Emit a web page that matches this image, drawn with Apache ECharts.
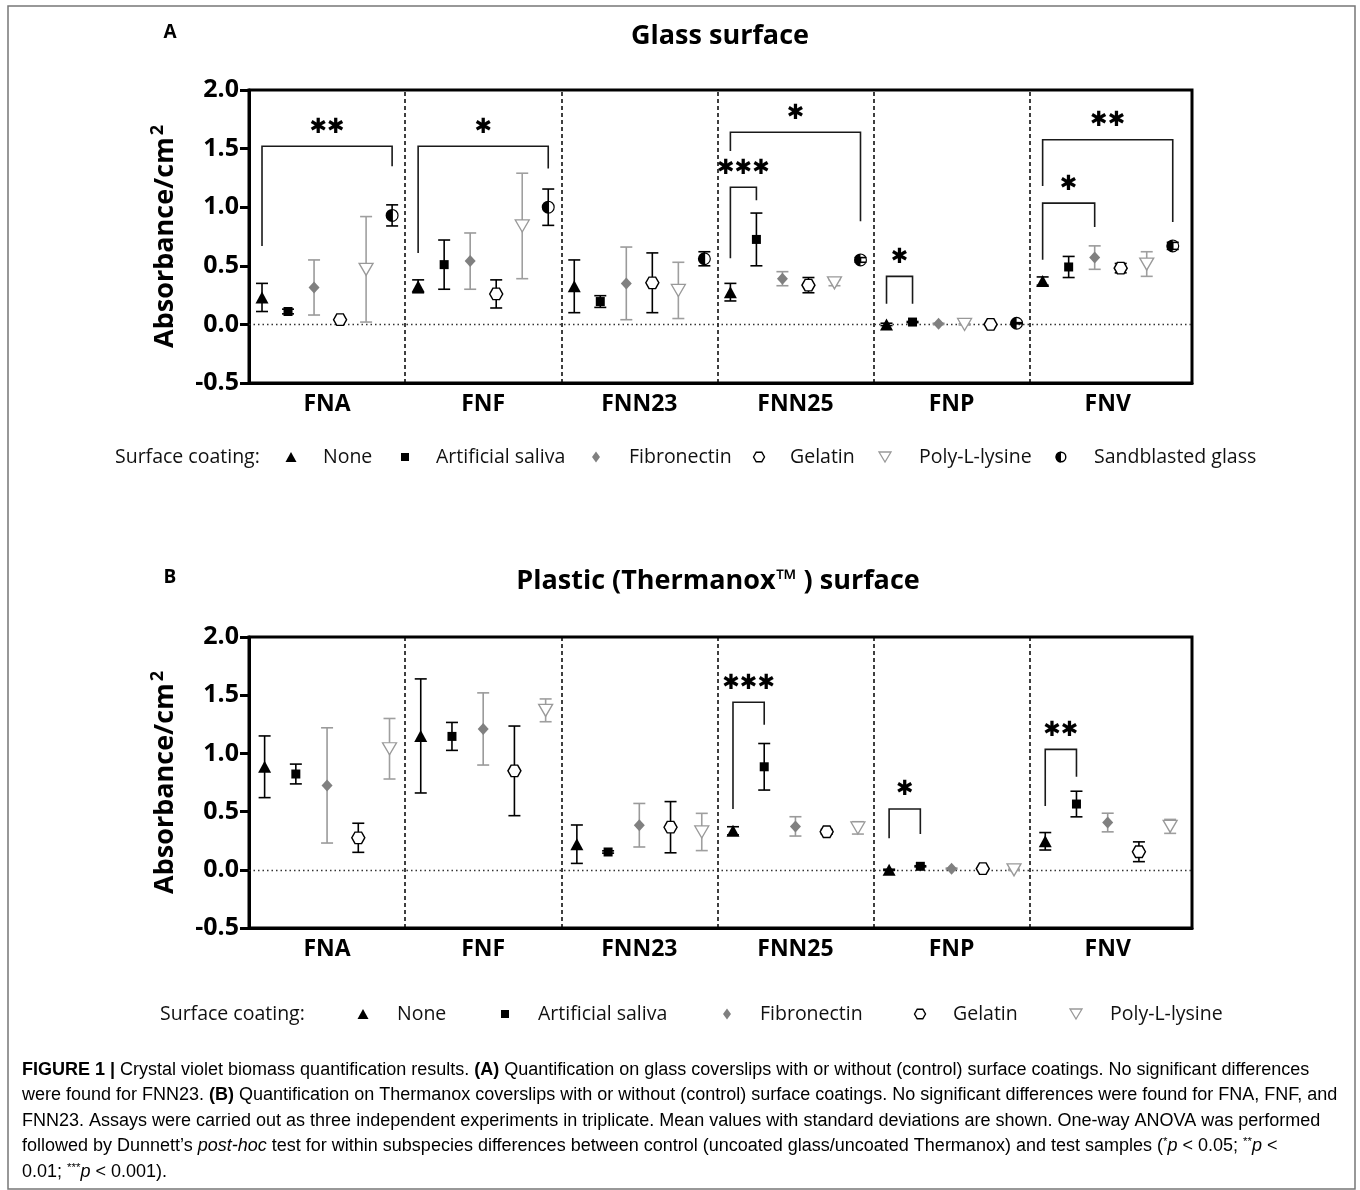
<!DOCTYPE html>
<html><head><meta charset="utf-8">
<script src="https://cdn.jsdelivr.net/npm/echarts/dist/echarts.min.js"></script>
<style>html,body{margin:0;padding:0;background:#fff}#c{width:1360px;height:1190px}</style>
</head><body><div id="c"></div>
<script>
// ---------- DATA ----------
const groups = ['FNA', 'FNF', 'FNN23', 'FNN25', 'FNP', 'FNV'];
const coatingsGlass = ['None', 'Artificial saliva', 'Fibronectin', 'Gelatin', 'Poly-L-lysine', 'Sandblasted glass'];
const coatingsPlastic = ['None', 'Artificial saliva', 'Fibronectin', 'Gelatin', 'Poly-L-lysine'];
const yTickValues = [-0.5, 0, 0.5, 1.0, 1.5, 2.0];

// Panel A: glass surface (mean, SD per group FNA..FNV)
const glassNoneMean = [0.23, 0.325, 0.325, 0.275, 0.00, 0.37];
const glassNoneSD = [0.12, 0.055, 0.225, 0.075, 0.01, 0.035];
const glassSalivaMean = [0.11, 0.51, 0.195, 0.725, 0.02, 0.49];
const glassSalivaSD = [0.02, 0.21, 0.05, 0.225, 0.005, 0.09];
const glassFibroMean = [0.315, 0.54, 0.35, 0.39, 0.005, 0.57];
const glassFibroSD = [0.235, 0.24, 0.31, 0.06, 0.005, 0.10];
const glassGelatinMean = [0.04, 0.26, 0.355, 0.335, 0.00, 0.48];
const glassGelatinSD = [0.01, 0.12, 0.255, 0.065, 0.005, 0.04];
const glassPLLMean = [0.47, 0.84, 0.29, 0.355, 0.00, 0.515];
const glassPLLSD = [0.45, 0.45, 0.24, 0.025, 0.005, 0.105];
const glassSandMean = [0.93, 1.00, 0.56, 0.55, 0.01, 0.67];
const glassSandSD = [0.09, 0.155, 0.06, 0.02, 0.005, 0.03];

// Panel B: plastic (Thermanox) surface
const plasticNoneMean = [0.885, 1.15, 0.22, 0.335, 0.00, 0.245];
const plasticNoneSD = [0.265, 0.49, 0.165, 0.035, 0.005, 0.075];
const plasticSalivaMean = [0.823, 1.146, 0.153, 0.885, 0.03, 0.565];
const plasticSalivaSD = [0.085, 0.12, 0.01, 0.20, 0.005, 0.11];
const plasticFibroMean = [0.725, 1.21, 0.383, 0.373, 0.01, 0.406];
const plasticFibroSD = [0.495, 0.31, 0.187, 0.083, 0.005, 0.08];
const plasticGelatinMean = [0.275, 0.85, 0.366, 0.327, 0.01, 0.155];
const plasticGelatinSD = [0.125, 0.385, 0.22, 0.02, 0.005, 0.085];
const plasticPLLMean = [1.04, 1.37, 0.325, 0.36, 0.00, 0.373];
const plasticPLLSD = [0.26, 0.098, 0.16, 0.053, 0.005, 0.06];

// slot order of the coatings inside each group (FNP in panel A shows PLL before gelatin)
const glassSlotOrder = [[0,1,2,3,4,5],[0,1,2,3,4,5],[0,1,2,3,4,5],[0,1,2,3,4,5],[0,1,2,4,3,5],[0,1,2,3,4,5]];
const plasticSlotOrder = [[0,1,2,3,4],[0,1,2,3,4],[0,1,2,3,4],[0,1,2,3,4],[0,1,2,3,4],[0,1,2,3,4]];

// significance brackets: [group, fromCoating, toCoating, barTop, leftLegEnd, rightLegEnd, stars]
const glassBrackets = [
  [0, 0, 5, 1.52, 0.67, 1.35, '**'],
  [1, 0, 5, 1.52, 0.61, 1.33, '*'],
  [3, 0, 5, 1.64, 1.48, 0.88, '*'],
  [3, 0, 1, 1.17, 0.565, 1.06, '***'],
  [4, 0, 1, 0.41, 0.177, 0.177, '*'],
  [5, 0, 5, 1.576, 1.18, 0.873, '**'],
  [5, 0, 2, 1.035, 0.552, 0.83, '*']
];
const plasticBrackets = [
  [3, 0, 1, 1.439, 0.522, 1.246, '***'],
  [4, 0, 1, 0.522, 0.27, 0.308, '*'],
  [5, 0, 1, 1.035, 0.548, 0.80, '**']
];

// ---------- STYLES / LAYOUT ----------
const P_TRI = 'M10,0L20,17.32L0,17.32Z';
const P_SQ = 'M0,0L10,0L10,10L0,10Z';
const P_DIA = 'M5,0L10,6L5,12L0,6Z';
const P_HEX = 'M0,8.66L5,0L15,0L20,8.66L15,17.32L5,17.32Z';
const P_TRID = 'M0,0L20,0L10,17.32Z';
const P_HALF = 'M10,0A10,10,0,0,0,10,20ZM10,0A10,10,0,0,1,10,20L10,18.2A8.2,8.2,0,0,0,10,1.8Z';
const styleOf = {
  'None': {path: P_TRI, kind: 'tri', size: [13, 12], lsize: [11, 10], fill: '#000', border: '#000', bw: 0, err: '#000'},
  'Artificial saliva': {path: P_SQ, kind: 'sq', size: [9, 9], lsize: [8, 8], fill: '#000', border: '#000', bw: 0, err: '#000'},
  'Fibronectin': {path: P_DIA, kind: 'dia', size: [11, 12], lsize: [8, 11], fill: '#808080', border: '#808080', bw: 0, err: '#9a9a9a'},
  'Gelatin': {path: P_HEX, kind: 'hex', size: [13, 11.5], lsize: [11, 9.5], fill: '#fff', border: '#000', bw: 1.4, err: '#000'},
  'Poly-L-lysine': {path: P_TRID, kind: 'trid', size: [14, 12], lsize: [12, 10], fill: '#fff', border: '#999', bw: 1.3, err: '#9f9f9f'},
  'Sandblasted glass': {path: P_HALF, kind: 'half', size: [13, 13], lsize: [11, 11], fill: '#000', border: '#000', bw: 0, err: '#000'}
};
// legend layout: marker centre x, text left x
const legendGlassMarkerX = [291, 405, 596, 759, 885, 1061];
const legendGlassTextX = [323, 436, 629, 790, 919, 1094];
const legendPlasticMarkerX = [363, 505, 727, 920, 1076];
const legendPlasticTextX = [397, 538, 760, 953, 1110];
const FONT = 'Open Sans';
const LEGEND_FONT = '19.5px "Open Sans"';

function xPos(g, slot, n) { return g + (slot + 0.5) / n; }
function starGlyphs(s) { return s.replace(/\*/g, '\u2731'); }

const grids = [
  {left: 249, right: 168, top: 90, height: 293, show: true, borderColor: '#000', borderWidth: 3, backgroundColor: 'transparent'},
  {left: 249, right: 168, top: 637, height: 291, show: true, borderColor: '#000', borderWidth: 3, backgroundColor: 'transparent'}
];

function xAxisFor(i) {
  return {
    type: 'value', gridIndex: i, min: 0, max: 6.04, interval: 0.5,
    axisLine: {show: true, onZero: false, lineStyle: {color: '#000', width: 3}},
    axisTick: {show: false}, splitLine: {show: false},
    axisLabel: {
      margin: 10, fontSize: 23, fontWeight: 'bold', color: '#000', fontFamily: FONT,
      showMinLabel: true, showMaxLabel: false,
      formatter: function (v) {
        const f = Math.floor(v);
        return (Math.abs(v - f - 0.5) < 1e-6 && f < groups.length) ? groups[f] : '';
      }
    }
  };
}
function yAxisFor(i) {
  return {
    type: 'value', gridIndex: i, min: yTickValues[0], max: yTickValues[yTickValues.length - 1], interval: 0.5,
    axisLine: {show: true, onZero: false, lineStyle: {color: '#000', width: 3}},
    axisTick: {show: true, inside: false, length: 9, lineStyle: {color: '#000', width: 3}},
    splitLine: {show: false},
    axisLabel: {margin: 10, fontSize: 25, fontWeight: 'bold', color: '#000', fontFamily: FONT,
      formatter: v => v.toFixed(1)},
    name: '{a|Absorbance/cm}{s|2}', nameLocation: 'middle', nameGap: 67, nameRotate: 90,
    nameTextStyle: {
      rich: {
        a: {fontSize: 27, fontWeight: 'bold', color: '#000', fontFamily: FONT},
        s: {fontSize: 18, fontWeight: 'bold', color: '#000', fontFamily: FONT, padding: [0, 0, 15, 2]}
      }
    }
  };
}

const series = [];
function buildPanel(pi, coatings, means, sds, slotOrder, brackets) {
  const n = coatings.length;
  coatings.forEach((name, ci) => {
    const st = styleOf[name];
    const pts = [], errs = [];
    groups.forEach((g, gi) => {
      const x = xPos(gi, slotOrder[gi][ci], n);
      pts.push([x, means[ci][gi]]);
      errs.push([x, means[ci][gi], sds[ci][gi]]);
    });
    series.push({
      name: name + ' SD ' + pi, type: 'custom', xAxisIndex: pi, yAxisIndex: pi, z: 3,
      data: errs, encode: {x: 0, y: 1}, silent: true,
      renderItem: function (params, api) {
        const x = api.value(0), m = api.value(1), s = api.value(2);
        const t = api.coord([x, m + s]), b = api.coord([x, m - s]);
        const hw = 6, sty = {stroke: st.err, lineWidth: 1.6, fill: null};
        return {type: 'group', children: [
          {type: 'line', shape: {x1: t[0], y1: t[1], x2: b[0], y2: b[1]}, style: sty},
          {type: 'line', shape: {x1: t[0] - hw, y1: t[1], x2: t[0] + hw, y2: t[1]}, style: sty},
          {type: 'line', shape: {x1: b[0] - hw, y1: b[1], x2: b[0] + hw, y2: b[1]}, style: sty}
        ]};
      }
    });
    const s = {
      name: name, type: 'scatter', xAxisIndex: pi, yAxisIndex: pi, z: 5,
      symbol: 'path://' + st.path, symbolSize: st.size, data: pts, silent: true,
      itemStyle: {color: st.fill, borderColor: st.border, borderWidth: st.bw, opacity: 1}
    };
    if (ci === 0) {
      s.markLine = {
        silent: true, symbol: ['none', 'none'], label: {show: false}, z: 1,
        data: [1, 2, 3, 4, 5].map(v => ({xAxis: v, lineStyle: {color: '#000', width: 1.5, type: [4, 3]}}))
          .concat([{yAxis: 0, lineStyle: {color: '#333', width: 1.3, type: [1.5, 3]}}]),
        animation: false
      };
    }
    series.push(s);
  });
  series.push({
    name: 'brackets ' + pi, type: 'custom', xAxisIndex: pi, yAxisIndex: pi, z: 4, silent: true,
    data: brackets.map(b => [xPos(b[0], slotOrder[b[0]][b[1]], n), xPos(b[0], slotOrder[b[0]][b[2]], n), b[3], b[4], b[5]]),
    encode: {x: [0, 1], y: [2, 3, 4]},
    renderItem: function (params, api) {
      const x1 = api.value(0), x2 = api.value(1);
      const p1 = api.coord([x1, api.value(3)]), p2 = api.coord([x1, api.value(2)]);
      const p3 = api.coord([x2, api.value(2)]), p4 = api.coord([x2, api.value(4)]);
      const stars = starGlyphs(brackets[params.dataIndex][6]);
      return {type: 'group', children: [
        {type: 'polyline', shape: {points: [p1, p2, p3, p4]}, style: {stroke: '#1a1a1a', lineWidth: 1.6, fill: null}},
        {type: 'text', x: (p2[0] + p3[0]) / 2, y: p2[1] - 19,
          style: {text: stars, fill: '#000', font: '21px "DejaVu Sans"', align: 'center', verticalAlign: 'middle'}}
      ]};
    }
  });
}
buildPanel(0, coatingsGlass,
  [glassNoneMean, glassSalivaMean, glassFibroMean, glassGelatinMean, glassPLLMean, glassSandMean],
  [glassNoneSD, glassSalivaSD, glassFibroSD, glassGelatinSD, glassPLLSD, glassSandSD],
  glassSlotOrder, glassBrackets);
buildPanel(1, coatingsPlastic,
  [plasticNoneMean, plasticSalivaMean, plasticFibroMean, plasticGelatinMean, plasticPLLMean],
  [plasticNoneSD, plasticSalivaSD, plasticFibroSD, plasticGelatinSD, plasticPLLSD],
  plasticSlotOrder, plasticBrackets);

// legend drawn as graphic items
function legendMarker(st, cx, cy) {
  const w = st.lsize[0], h = st.lsize[1], l = cx - w / 2, t = cy - h / 2;
  const fillSty = {fill: st.fill, stroke: st.bw ? st.border : null, lineWidth: st.bw};
  switch (st.kind) {
    case 'tri': return [{type: 'polygon', shape: {points: [[cx, t], [l + w, t + h], [l, t + h]]}, style: fillSty}];
    case 'sq': return [{type: 'rect', shape: {x: l, y: t, width: w, height: h}, style: fillSty}];
    case 'dia': return [{type: 'polygon', shape: {points: [[cx, t], [l + w, cy], [cx, t + h], [l, cy]]}, style: fillSty}];
    case 'hex': return [{type: 'polygon', shape: {points: [[l, cy], [l + w / 4, t], [l + 3 * w / 4, t], [l + w, cy], [l + 3 * w / 4, t + h], [l + w / 4, t + h]]}, style: fillSty}];
    case 'trid': return [{type: 'polygon', shape: {points: [[l, t], [l + w, t], [cx, t + h]]}, style: fillSty}];
    case 'half': return [
      {type: 'circle', shape: {cx: cx, cy: cy, r: w / 2 - 0.7}, style: {fill: '#fff', stroke: '#000', lineWidth: 1.4}},
      {type: 'sector', shape: {cx: cx, cy: cy, r: w / 2, startAngle: Math.PI / 2, endAngle: 3 * Math.PI / 2}, style: {fill: '#000'}}
    ];
  }
  return [];
}
function legendGraphics(names, markerX, textX, y, labelX) {
  let els = [{type: 'text', x: labelX, y: y, style: {text: 'Surface coating:', font: LEGEND_FONT, fill: '#111', align: 'left', verticalAlign: 'middle'}}];
  names.forEach((nm, i) => {
    els = els.concat(legendMarker(styleOf[nm], markerX[i], y));
    els.push({type: 'text', x: textX[i], y: y, style: {text: nm, font: LEGEND_FONT, fill: '#111', align: 'left', verticalAlign: 'middle'}});
  });
  return els;
}

const captionRich = {
  r: {fontSize: 18, fontFamily: 'Liberation Sans', color: '#333', lineHeight: 25.5},
  b: {fontSize: 18, fontFamily: 'Liberation Sans', fontWeight: 'bold', color: '#222', lineHeight: 25.5},
  i: {fontSize: 18, fontFamily: 'Liberation Sans', fontStyle: 'italic', color: '#333', lineHeight: 25.5},
  sup: {fontSize: 11.5, fontFamily: 'Liberation Sans', color: '#333', lineHeight: 25.5, padding: [0, 0, 8, 0]}
};
const captionText = [
  '{b|FIGURE 1 |}{r| Crystal violet biomass quantification results. }{b|(A)}{r| Quantification on glass coverslips with or without (control) surface coatings. No significant differences}',
  '{r|were found for FNN23. }{b|(B)}{r| Quantification on Thermanox coverslips with or without (control) surface coatings. No significant differences were found for FNA, FNF, and}',
  '{r|FNN23. Assays were carried out as three independent experiments in triplicate. Mean values with standard deviations are shown. One-way ANOVA was performed}',
  '{r|followed by Dunnett\u2019s }{i|post-hoc}{r| test for within subspecies differences between control (uncoated glass/uncoated Thermanox) and test samples (}{sup|*}{i|p}{r| < 0.05; }{sup|**}{i|p}{r| <}',
  '{r|0.01; }{sup|***}{i|p}{r| < 0.001).}'
].join('\n');

const option = {
  animation: false,
  backgroundColor: '#fff',
  grid: grids,
  xAxis: [xAxisFor(0), xAxisFor(1)],
  yAxis: [yAxisFor(0), yAxisFor(1)],
  series: series,
  graphic: [
    {type: 'rect', shape: {x: 8, y: 6, width: 1347, height: 1183}, style: {fill: null, stroke: '#777', lineWidth: 1.5}, silent: true},
    {type: 'text', x: 170, y: 33, style: {text: 'A', font: 'bold 19px "Open Sans"', fill: '#000', align: 'center', verticalAlign: 'middle'}},
    {type: 'text', x: 170, y: 578, style: {text: 'B', font: 'bold 19px "Open Sans"', fill: '#000', align: 'center', verticalAlign: 'middle'}},
    {type: 'text', x: 720, y: 36, style: {text: 'Glass surface', font: 'bold 27px "Open Sans"', fill: '#000', align: 'center', verticalAlign: 'middle'}},
    {type: 'text', x: 718, y: 581, style: {text: 'Plastic (Thermanox\u2122 ) surface', font: 'bold 27px "Open Sans"', fill: '#000', align: 'center', verticalAlign: 'middle'}},
    {type: 'text', x: 22, y: 1057, style: {text: captionText, rich: captionRich, align: 'left', verticalAlign: 'top'}}
  ].concat(legendGraphics(coatingsGlass, legendGlassMarkerX, legendGlassTextX, 457, 115))
   .concat(legendGraphics(coatingsPlastic, legendPlasticMarkerX, legendPlasticTextX, 1014, 160))
};
const chart = echarts.init(document.getElementById('c'), null, {renderer: 'canvas'});
chart.setOption(option);
</script></body></html>
